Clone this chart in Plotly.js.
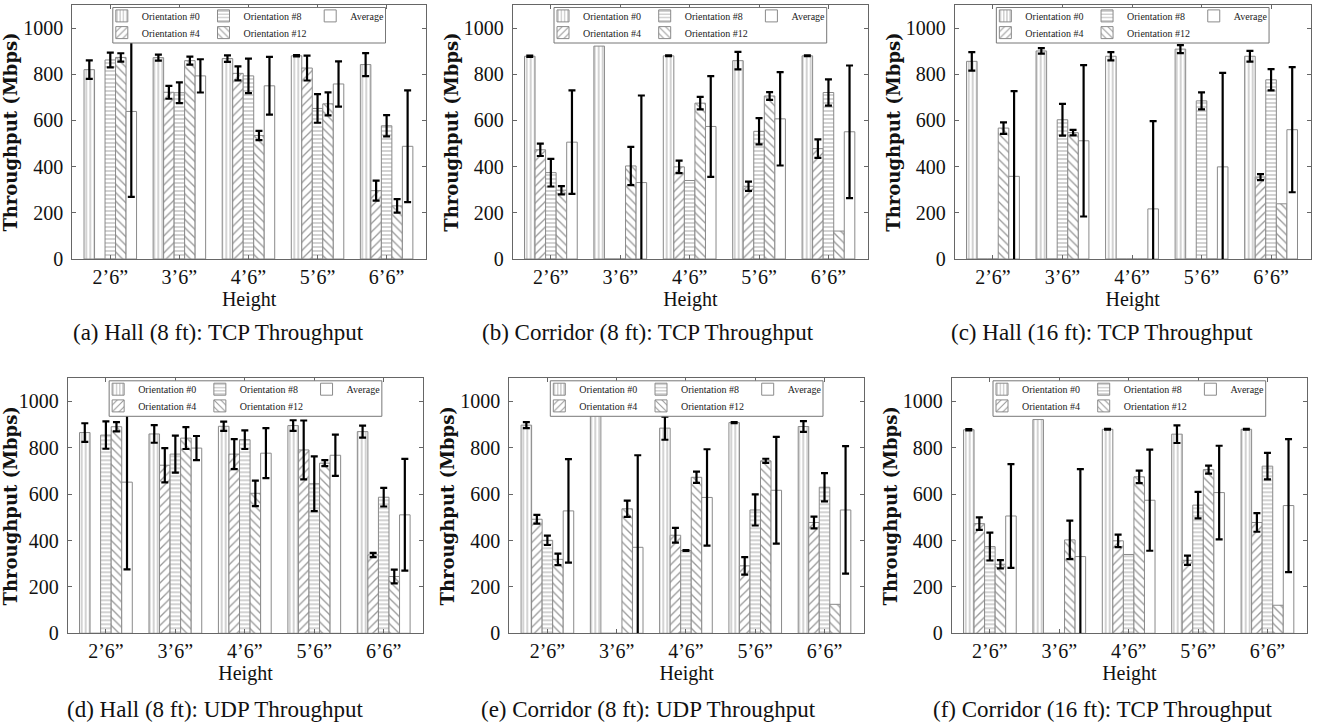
<!DOCTYPE html>
<html><head><meta charset="utf-8">
<script src="https://cdn.plot.ly/plotly-3.0.1.min.js"></script>
<style>html,body{margin:0;padding:0;background:#fff}#chart{width:1320px;height:723px}</style>
</head><body><div id="chart"></div>
<script>
// ---------- data ----------
const categories = ["2\u20196\u201d", "3\u20196\u201d", "4\u20196\u201d", "5\u20196\u201d", "6\u20196\u201d"];
const seriesNames = ["Orientation #0", "Orientation #4", "Orientation #8", "Orientation #12", "Average"];
const yTicks = [0, 200, 400, 600, 800, 1000];
const captions = [
  "(a) Hall (8 ft): TCP Throughput",
  "(b) Corridor (8 ft): TCP Throughput",
  "(c) Hall (16 ft): TCP Throughput",
  "(d) Hall (8 ft): UDP Throughput",
  "(e) Corridor (8 ft): UDP Throughput",
  "(f) Corridor (16 ft): TCP Throughput"
];

// (a) Hall (8 ft): TCP
const hall8Tcp_o0 = [820, 872, 868, 880, 842];   const hall8Tcp_o0_err = [40, 13, 14, 3, 50];
const hall8Tcp_o4 = [0, 722, 804, 827, 296];     const hall8Tcp_o4_err = [0, 28, 30, 54, 43];
const hall8Tcp_o8 = [862, 720, 793, 652, 577];   const hall8Tcp_o8_err = [32, 45, 75, 62, 46];
const hall8Tcp_o12 = [873, 859, 535, 672, 230];  const hall8Tcp_o12_err = [18, 17, 20, 50, 29];
const hall8Tcp_avg = [639, 793, 750, 758, 488];  const hall8Tcp_avg_err = [370, 72, 125, 98, 242];

// (b) Corridor (8 ft): TCP
const corr8Tcp_o0 = [878, 922, 880, 859, 880];   const corr8Tcp_o0_err = [3, 0, 2, 38, 2];
const corr8Tcp_o4 = [473, 0, 399, 315, 478];     const corr8Tcp_o4_err = [27, 0, 27, 20, 40];
const corr8Tcp_o8 = [374, 0, 340, 553, 721];     const corr8Tcp_o8_err = [60, 0, 0, 57, 57];
const corr8Tcp_o12 = [298, 403, 675, 706, 121];  const corr8Tcp_o12_err = [18, 83, 27, 17, 0];
const corr8Tcp_avg = [506, 331, 574, 607, 551];  const corr8Tcp_avg_err = [224, 377, 218, 202, 287];

// (c) Hall (16 ft): TCP
const hall16Tcp_o0 = [856, 901, 878, 909, 878];  const hall16Tcp_o0_err = [40, 12, 18, 17, 23];
const hall16Tcp_o4 = [0, 0, 0, 0, 355];          const hall16Tcp_o4_err = [0, 0, 0, 0, 13];
const hall16Tcp_o8 = [0, 603, 0, 685, 776];      const hall16Tcp_o8_err = [0, 69, 0, 37, 46];
const hall16Tcp_o12 = [567, 547, 0, 0, 239];     const hall16Tcp_o12_err = [25, 12, 0, 0, 0];
const hall16Tcp_avg = [358, 512, 217, 399, 560]; const hall16Tcp_avg_err = [369, 328, 380, 407, 271];

// (d) Hall (8 ft): UDP
const hall8Udp_o0 = [866, 860, 893, 896, 870];   const hall8Udp_o0_err = [40, 38, 20, 23, 26];
const hall8Udp_o4 = [0, 725, 773, 791, 338];     const hall8Udp_o4_err = [0, 74, 65, 127, 9];
const hall8Udp_o8 = [855, 773, 835, 645, 587];   const hall8Udp_o8_err = [59, 80, 40, 118, 40];
const hall8Udp_o12 = [891, 842, 604, 734, 245];  const hall8Udp_o12_err = [20, 47, 55, 13, 30];
const hall8Udp_avg = [652, 799, 777, 768, 511];  const hall8Udp_avg_err = [376, 52, 108, 89, 241];

// (e) Corridor (8 ft): UDP
const corr8Udp_o0 = [898, 945, 885, 909, 892];   const corr8Udp_o0_err = [13, 0, 50, 2, 23];
const corr8Udp_o4 = [492, 0, 423, 291, 478];     const corr8Udp_o4_err = [19, 0, 32, 38, 25];
const corr8Udp_o8 = [401, 0, 357, 532, 630];     const corr8Udp_o8_err = [20, 0, 2, 67, 61];
const corr8Udp_o12 = [319, 537, 673, 744, 125];  const corr8Udp_o12_err = [25, 35, 24, 9, 0];
const corr8Udp_avg = [528, 371, 586, 617, 532];  const corr8Udp_avg_err = [223, 397, 208, 230, 275];

// (f) Corridor (16 ft): TCP
const corr16Tcp_o0 = [878, 922, 880, 859, 880];  const corr16Tcp_o0_err = [3, 0, 2, 38, 2];
const corr16Tcp_o4 = [473, 0, 399, 315, 478];    const corr16Tcp_o4_err = [27, 0, 27, 20, 40];
const corr16Tcp_o8 = [374, 0, 340, 553, 721];    const corr16Tcp_o8_err = [60, 0, 0, 57, 57];
const corr16Tcp_o12 = [298, 403, 675, 706, 121]; const corr16Tcp_o12_err = [18, 83, 27, 17, 0];
const corr16Tcp_avg = [506, 331, 574, 607, 551]; const corr16Tcp_avg_err = [224, 377, 218, 202, 287];

// ---------- build ----------
const panelSeries = [
  [[hall8Tcp_o0, hall8Tcp_o0_err], [hall8Tcp_o4, hall8Tcp_o4_err], [hall8Tcp_o8, hall8Tcp_o8_err], [hall8Tcp_o12, hall8Tcp_o12_err], [hall8Tcp_avg, hall8Tcp_avg_err]],
  [[corr8Tcp_o0, corr8Tcp_o0_err], [corr8Tcp_o4, corr8Tcp_o4_err], [corr8Tcp_o8, corr8Tcp_o8_err], [corr8Tcp_o12, corr8Tcp_o12_err], [corr8Tcp_avg, corr8Tcp_avg_err]],
  [[hall16Tcp_o0, hall16Tcp_o0_err], [hall16Tcp_o4, hall16Tcp_o4_err], [hall16Tcp_o8, hall16Tcp_o8_err], [hall16Tcp_o12, hall16Tcp_o12_err], [hall16Tcp_avg, hall16Tcp_avg_err]],
  [[hall8Udp_o0, hall8Udp_o0_err], [hall8Udp_o4, hall8Udp_o4_err], [hall8Udp_o8, hall8Udp_o8_err], [hall8Udp_o12, hall8Udp_o12_err], [hall8Udp_avg, hall8Udp_avg_err]],
  [[corr8Udp_o0, corr8Udp_o0_err], [corr8Udp_o4, corr8Udp_o4_err], [corr8Udp_o8, corr8Udp_o8_err], [corr8Udp_o12, corr8Udp_o12_err], [corr8Udp_avg, corr8Udp_avg_err]],
  [[corr16Tcp_o0, corr16Tcp_o0_err], [corr16Tcp_o4, corr16Tcp_o4_err], [corr16Tcp_o8, corr16Tcp_o8_err], [corr16Tcp_o12, corr16Tcp_o12_err], [corr16Tcp_avg, corr16Tcp_avg_err]]
];

const W = 1320, H = 723;
// plot-area geometry in px: [left, right, top, bottom]
const geom = [
  [72.3, 426, 5, 259], [512.7, 868, 5, 259], [954.7, 1310.7, 5, 259],
  [67.7, 423.3, 378.3, 633.3], [509.3, 864, 378.3, 633.3], [951.7, 1307, 378.3, 633.3]
];
const capPos = [[218, 333], [648, 333], [1102, 333], [215, 709], [648, 709], [1102, 709]];
const patterns = ['|', '/', '-', '\\', ''];
const patSize = [4, 6, 4, 6, 8];
const legTextOff = [29, 29, 130.7, 130.7, 237.4];
const legRow = [0, 1, 0, 1, 0];
const legRowY = [10.9, 27.6];
const legendBoxW = 272.7;

const serif = 'Liberation Serif, Times New Roman, serif';
const traces = [];
const layout = {
  width: W, height: H,
  margin: {l: 0, r: 0, t: 0, b: 0},
  paper_bgcolor: 'white', plot_bgcolor: 'white',
  barmode: 'group', bargap: 0.24, bargroupgap: 0,
  shapes: [], annotations: []
};

panelSeries.forEach((series, pi) => {
  const ax = pi === 0 ? '' : String(pi + 1);
  const [L, R, T, B] = geom[pi];
  const boxL = (L + R) / 2 - legendBoxW / 2;
  series.forEach((s, si) => {
    const legendId = 'legend' + (pi * 5 + si + 2);
    traces.push({
      type: 'bar', x: categories, y: s[0], name: seriesNames[si],
      xaxis: 'x' + ax, yaxis: 'y' + ax, legend: legendId,
      marker: {
        color: 'white',
        line: {color: '#8a8a8a', width: 1},
        pattern: {shape: patterns[si], fgcolor: '#9a9a9a', bgcolor: 'white', size: patSize[si], solidity: 0.22}
      },
      error_y: {type: 'data', array: s[1].map(v => v > 0 ? v : NaN), visible: true,
                color: '#000', thickness: 2.2, width: 3.5},
      hoverinfo: 'skip'
    });
    layout[legendId] = {
      x: (boxL + legTextOff[si] - 40) / W, xanchor: 'left',
      y: 1 - (T + legRowY[legRow[si]] - 14.5) / H, yanchor: 'top',
      bgcolor: 'rgba(0,0,0,0)', borderwidth: 0,
      font: {family: serif, size: 10, color: '#222'}
    };
  });
  layout['xaxis' + ax] = {
    domain: [L / W, R / W], anchor: 'y' + ax, type: 'category',
    range: [-0.55, 4.57], showline: true, mirror: 'ticks', linecolor: '#666', linewidth: 1,
    ticks: 'inside', ticklen: 4, tickcolor: '#666', showgrid: false, zeroline: false,
    tickfont: {family: serif, size: 20, color: '#111'},
    title: {text: 'Height', font: {family: serif, size: 20, color: '#111'}, standoff: 0},
    fixedrange: true
  };
  layout['yaxis' + ax] = {
    domain: [1 - B / H, 1 - T / H], anchor: 'x' + ax,
    range: [0, 1100], tickvals: yTicks, showline: true, mirror: 'ticks', linecolor: '#666', linewidth: 1,
    ticks: 'inside', ticklen: 4, tickcolor: '#666', showgrid: false, zeroline: false,
    ticklabelstandoff: 4,
    tickfont: {family: serif, size: 20, color: '#111'},
    title: {text: 'Throughput (Mbps)', font: {family: 'DejaVu Serif, serif', size: 18, weight: 'bold', color: '#111'}, standoff: 0},
    fixedrange: true
  };
  layout.shapes.push({
    type: 'rect', xref: 'paper', yref: 'paper', layer: 'above',
    x0: boxL / W, x1: (boxL + legendBoxW) / W,
    y0: 1 - (T + 38) / H, y1: 1 - (T + 2.5) / H,
    fillcolor: 'white', line: {color: '#777', width: 1}
  });
  layout.annotations.push({
    xref: 'paper', yref: 'paper', x: capPos[pi][0] / W, y: 1 - capPos[pi][1] / H,
    xanchor: 'center', yanchor: 'middle', showarrow: false,
    text: captions[pi], font: {family: serif, size: 23, color: '#111'}
  });
});

Plotly.newPlot('chart', traces, layout, {displayModeBar: false, staticPlot: true});
</script>
</body></html>
